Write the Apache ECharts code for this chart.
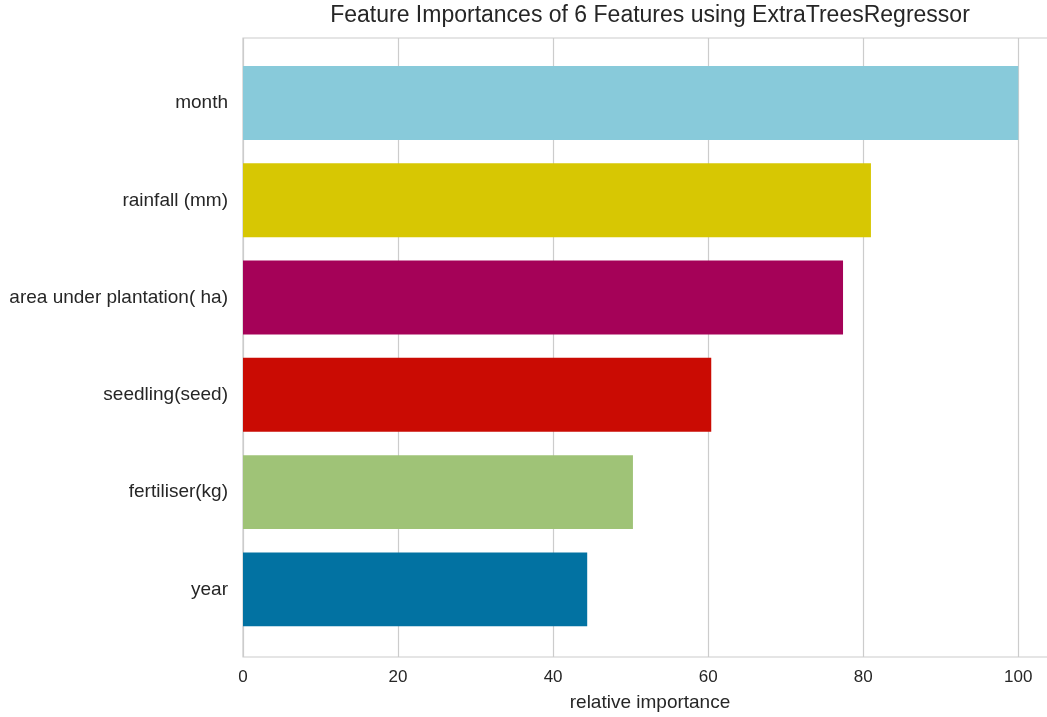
<!DOCTYPE html>
<html>
<head>
<meta charset="utf-8">
<title>Feature Importances</title>
<script src="https://cdn.jsdelivr.net/npm/echarts@6/dist/echarts.min.js"></script>
<style>
  html, body { margin: 0; padding: 0; background: #ffffff; }
  #chart { width: 1047px; height: 717px; }
</style>
</head>
<body>
<div id="chart"></div>
<script>
// Features listed top to bottom, with their relative importance (0-100)
const features = ['month', 'rainfall (mm)', 'area under plantation( ha)', 'seedling(seed)', 'fertiliser(kg)', 'year'];
const importances = [100, 81.0, 77.4, 60.4, 50.3, 44.4];
const barColors = ['#88cada', '#d7c703', '#a50258', '#ca0b03', '#9fc377', '#0272a2'];
const xTicks = [0, 20, 40, 60, 80, 100];

const titleText = 'Feature Importances of 6 Features using ExtraTreesRegressor';
const xName = 'relative importance';

const X_MAX = 105;
const textColor = '#262626';
const gridColor = '#cccccc';
const fontFamily = '"Liberation Sans", Arial, sans-serif';

// plot area geometry: x = 0 sits at 243px, 7.75px per unit; the axes run past the right edge
const PLOT_LEFT = 243;
const PLOT_WIDTH = 814;

const chart = echarts.init(document.getElementById('chart'), null, { renderer: 'canvas' });

const barData = importances.map((v, i) => ({
  value: v,
  itemStyle: { color: barColors[i] }
}));

chart.setOption({
  animation: false,
  backgroundColor: '#ffffff',
  graphic: [{
    type: 'text',
    x: PLOT_LEFT + PLOT_WIDTH / 2,
    y: 16,
    style: {
      text: titleText,
      fill: textColor,
      font: '23px "Liberation Sans", Arial, sans-serif',
      textAlign: 'center',
      textVerticalAlign: 'middle'
    }
  }],
  grid: [
    // frame + vertical gridlines
    {
      left: PLOT_LEFT, width: PLOT_WIDTH, top: 38, bottom: 60,
      outerBoundsMode: 'none', containLabel: false,
      show: true, borderColor: gridColor, borderWidth: 1.2, backgroundColor: 'transparent'
    },
    // bars
    {
      left: PLOT_LEFT, width: PLOT_WIDTH, top: 54.4, bottom: 79,
      outerBoundsMode: 'none', containLabel: false, show: false
    }
  ],
  xAxis: [
    {
      gridIndex: 0,
      type: 'value',
      min: 0,
      max: X_MAX,
      interval: 20,
      axisLine: { show: false },
      axisTick: { show: false },
      splitLine: { show: true, lineStyle: { color: gridColor, width: 1.2 } },
      axisLabel: {
        color: textColor,
        fontFamily: fontFamily,
        fontSize: 17,
        margin: 12,
        formatter: v => (xTicks.indexOf(v) >= 0 ? String(v) : '')
      },
      name: xName,
      nameLocation: 'middle',
      nameGap: 36,
      nameTextStyle: { color: textColor, fontFamily: fontFamily, fontSize: 19 }
    },
    {
      gridIndex: 1,
      type: 'value',
      min: 0,
      max: X_MAX,
      show: false
    }
  ],
  yAxis: [
    {
      gridIndex: 0,
      type: 'value',
      min: 0,
      max: 1,
      show: false
    },
    {
      gridIndex: 1,
      type: 'category',
      inverse: true,
      data: features,
      axisLine: { show: false },
      axisTick: { show: false },
      splitLine: { show: false },
      axisLabel: {
        color: textColor,
        fontFamily: fontFamily,
        fontSize: 19,
        margin: 15
      }
    }
  ],
  series: [{
    type: 'bar',
    xAxisIndex: 1,
    yAxisIndex: 1,
    data: barData,
    barCategoryGap: '24%'
  }]
});
</script>
</body>
</html>
